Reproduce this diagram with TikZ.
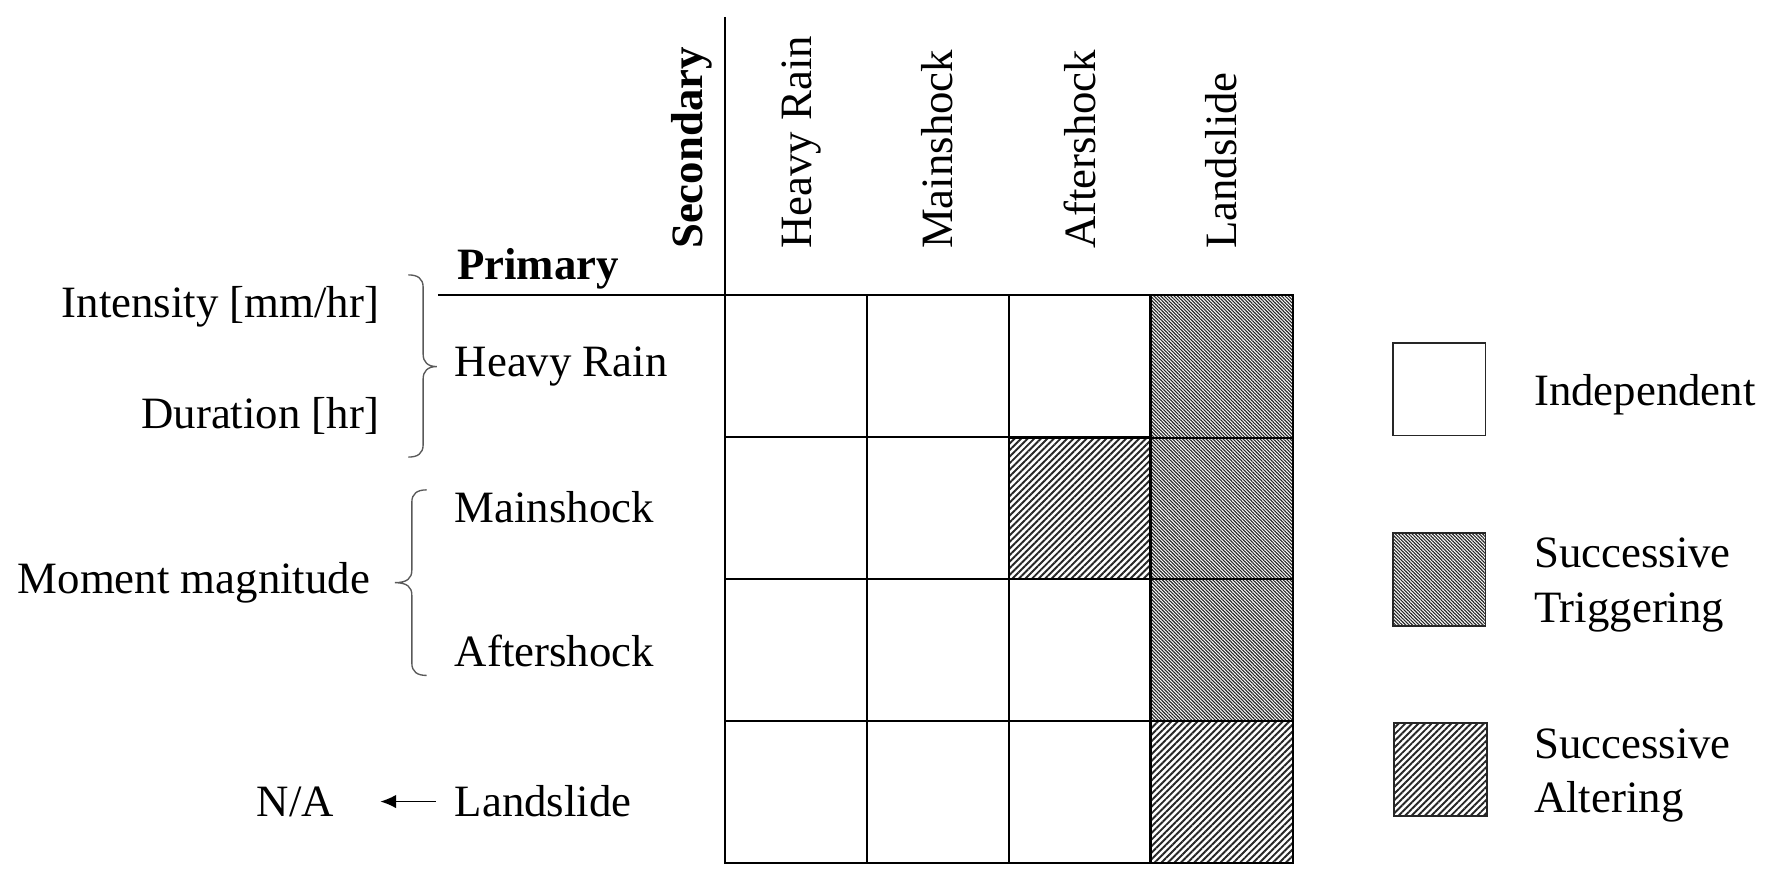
\documentclass[tikz,border=0pt]{standalone}
\usepackage{fontspec}
\setmainfont{Liberation Serif}
\usetikzlibrary{patterns.meta,arrows.meta}
\tikzset{
  lbl/.style={font=\fontsize{19.8}{24}\selectfont, inner sep=0pt, outer sep=0pt},
  blbl/.style={lbl, font=\fontsize{19.8}{24}\selectfont\bfseries},
  gridline/.style={line width=0.75pt, draw=black},
  cell/.style={line width=0.75pt, draw=black, fill=white},
  trig/.style={line width=1pt, draw=black, pattern={Lines[angle=-45,distance=1.05pt,line width=0.5pt]}, pattern color=black!85},
  alter/.style={line width=1pt, draw=black, pattern={Lines[angle=45,distance=2.05pt,line width=0.85pt]}, pattern color=black!85},
  bracepath/.style={line width=0.6pt, draw=black!65},
  legbox/.style={line width=0.8pt, draw=black!85},
}
\begin{document}
\begin{tikzpicture}[x=0.5pt,y=-0.5pt]
\useasboundingbox (0,0) rectangle (1568,780);
% grid cells
\foreach \r in {0,1,2,3}{
  \foreach \c in {0,1,2}{
    \draw[cell] ({641+\c*125.5},{261+\r*125.5}) rectangle ++(125.5,125.5);
  }
}
\fill[white] (1017,261) rectangle (1143,763);
\draw[alter] (891.5,387) rectangle (1017,512);
\draw[trig] (1017,261) rectangle (1143,387);
\draw[trig] (1017,387) rectangle (1143,512);
\draw[trig] (1017,512) rectangle (1143,637);
\draw[alter] (1017,637) rectangle (1143,763);
% axes
\draw[gridline] (641,15) -- (641,763);
\draw[gridline] (387,261) -- (1143,261);
% column headers
\node[blbl, rotate=90, anchor=base west] (sec) at (621,220) {Secondary};
\node[lbl, rotate=90, anchor=base west] (chr) at (717,220) {Heavy Rain};
\node[lbl, rotate=90, anchor=base west] (cms) at (842,220) {Mainshock};
\node[lbl, rotate=90, anchor=base west] (cas) at (968,220) {Aftershock};
\node[lbl, rotate=90, anchor=base west] (cls) at (1093,220) {Landslide};
\node[blbl, anchor=base west] (prim) at (404,247) {Primary};
% row labels
\node[lbl, anchor=base west] (rhr) at (402,333) {Heavy Rain};
\node[lbl, anchor=base west] (rms) at (402,462) {Mainshock};
\node[lbl, anchor=base west] (ras) at (402,589) {Aftershock};
\node[lbl, anchor=base west] (rls) at (402,722) {Landslide};
% left descriptors
\node[lbl, anchor=base east] (int) at (335,281) {Intensity [mm/hr]};
\node[lbl, anchor=base east] (dur) at (335,379) {Duration [hr]};
\node[lbl, anchor=base east] (mom) at (327,525) {Moment magnitude};
\node[lbl, anchor=base west] (na) at (227,722) {N/A};
% braces
\draw[bracepath] (361,243) .. controls (369,243) and (374,246) .. (374,254) -- (374,313)
  .. controls (374,320) and (378,324) .. (386,324)
  .. controls (378,324) and (374,328) .. (374,335) -- (374,393)
  .. controls (374,401) and (369,404) .. (361,404);
\draw[bracepath] (377,433) .. controls (369,433) and (364,436) .. (364,444) -- (364,504)
  .. controls (364,511) and (360,515) .. (349,515)
  .. controls (360,515) and (364,519) .. (364,526) -- (364,586)
  .. controls (364,594) and (369,597) .. (377,597);
% arrow
\draw[line width=0.6pt, -{Latex[length=7pt,width=6pt]}, shorten <=17pt/2, shorten >=41pt/2] (rls.west) -- (na.east |- rls.west);
% legend
\draw[legbox, fill=white] (1231,303) rectangle (1313,385);
\draw[legbox, pattern={Lines[angle=-45,distance=1.05pt,line width=0.5pt]}, pattern color=black!85] (1231,471) rectangle (1313,553);
\draw[legbox, pattern={Lines[angle=45,distance=2.05pt,line width=0.85pt]}, pattern color=black!85] (1232,639) rectangle (1314,721);
\node[lbl, anchor=base west] (lind) at (1356,358) {Independent};
\node[lbl, anchor=base west, align=left] (ltrig) at (1356,550) {Successive\\Triggering};
\node[lbl, anchor=base west, align=left] (lalt) at (1356,718) {Successive\\Altering};
\end{tikzpicture}
\end{document}
